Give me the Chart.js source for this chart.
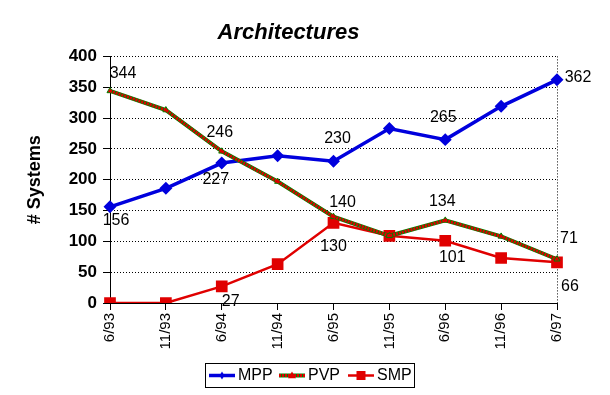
<!DOCTYPE html>
<html>
<head>
<meta charset="utf-8">
<script src="https://cdn.jsdelivr.net/npm/chart.js@4"></script>
<style>
  html, body { margin: 0; padding: 0; background: #fff; }
  #wrap { width: 610px; height: 395px; }
</style>
</head>
<body>
<div id="wrap"><canvas id="archChart" width="610" height="395"></canvas></div>
<script>
// data
const periods = ['6/93', '11/93', '6/94', '11/94', '6/95', '11/95', '6/96', '11/96', '6/97'];
const mpp = [156, 186, 227, 239, 230, 283, 265, 319, 362];
const pvp = [344, 313, 246, 197, 140, 109, 134, 108, 71];
const smp = [0, 0, 27, 63, 130, 109, 101, 73, 66];

// which points carry a value label, and where it sits relative to the point
const labelPlaces = [
    { 0: [6, 14], 2: [-6, 17], 4: [4, -23], 6: [-2, -22], 8: [21, -2] },
    { 0: [13, -17], 2: [-2, -19], 4: [9, -14], 6: [-3, -19], 8: [12, -21] },
    { 2: [9, 15], 4: [0, 24], 6: [7, 17], 8: [13, 24] }
];

const FONT = 'Arial, "Liberation Sans", sans-serif';
const PVP_GREEN = '#008000';
const PVP_RED = '#e00000';

// red dither over the green PVP line, like the old Excel fill
function ditherStroke(ctx, pts) {
    ctx.save();
    ctx.strokeStyle = PVP_RED;
    ctx.lineWidth = 3;
    ctx.setLineDash([2, 1]);
    ctx.beginPath();
    pts.forEach((p, j) => j ? ctx.lineTo(p.x, p.y) : ctx.moveTo(p.x, p.y));
    ctx.stroke();
    ctx.restore();
}

const valueLabels = {
    id: 'valueLabels',
    afterDatasetDraw(chart, args) {
        if (args.index !== 1) return;
        ditherStroke(chart.ctx, args.meta.data);
    },
    afterDatasetsDraw(chart) {
        const ctx = chart.ctx;
        ctx.save();
        ctx.font = '16px ' + FONT;
        ctx.fillStyle = '#000';
        ctx.textAlign = 'center';
        ctx.textBaseline = 'middle';
        chart.data.datasets.forEach((ds, i) => {
            const meta = chart.getDatasetMeta(i);
            const places = labelPlaces[i];
            Object.keys(places).forEach(k => {
                const pt = meta.data[k];
                const off = places[k];
                ctx.fillText(String(ds.data[k]), pt.x + off[0], pt.y + off[1]);
            });
        });
        ctx.restore();
    }
};

const frameAndLegend = {
    id: 'frameAndLegend',
    beforeDatasetsDraw(chart) {
        const ctx = chart.ctx;
        const a = chart.chartArea;
        ctx.save();
        ctx.strokeStyle = '#000';
        ctx.lineWidth = 1;
        ctx.setLineDash([1, 2]);
        ctx.beginPath();
        ctx.moveTo(Math.round(a.right) + 0.5, a.top);
        ctx.lineTo(Math.round(a.right) + 0.5, a.bottom);
        ctx.stroke();
        ctx.restore();
    },
    afterDraw(chart) {
        const ctx = chart.ctx;
        const boxX = 205, boxY = 363, boxW = 209, boxH = 24;
        ctx.save();
        ctx.fillStyle = '#fff';
        ctx.fillRect(boxX, boxY, boxW, boxH);
        ctx.strokeStyle = '#000';
        ctx.lineWidth = 1;
        ctx.strokeRect(boxX + 0.5, boxY + 0.5, boxW, boxH);
        ctx.font = '16px ' + FONT;
        ctx.textBaseline = 'middle';
        ctx.fillStyle = '#000';
        const cy = boxY + boxH / 2 + 0.5;
        const starts = [209, 279, 348];
        chart.data.datasets.forEach((ds, i) => {
            const x0 = starts[i];
            ctx.strokeStyle = ds.borderColor;
            ctx.lineWidth = ds.borderWidth;
            ctx.beginPath();
            ctx.moveTo(x0, cy);
            ctx.lineTo(x0 + 26, cy);
            ctx.stroke();
            if (i === 1) ditherStroke(ctx, [{ x: x0, y: cy }, { x: x0 + 26, y: cy }]);
            ctx.fillStyle = ds.pointBackgroundColor;
            const mx = x0 + 13;
            const r = ds.legendMark;
            ctx.beginPath();
            if (ds.pointStyle === 'rect') {
                ctx.rect(mx - r, cy - r, 2 * r, 2 * r);
            } else if (ds.pointStyle === 'triangle') {
                ctx.moveTo(mx, cy - r);
                ctx.lineTo(mx + r, cy + r * 0.7);
                ctx.lineTo(mx - r, cy + r * 0.7);
                ctx.closePath();
            } else {
                ctx.moveTo(mx, cy - r);
                ctx.lineTo(mx + r * 0.6, cy);
                ctx.lineTo(mx, cy + r);
                ctx.lineTo(mx - r * 0.6, cy);
                ctx.closePath();
            }
            ctx.fill();
            ctx.fillStyle = '#000';
            ctx.fillText(ds.label, x0 + 29, cy);
        });
        ctx.restore();
    }
};

new Chart(document.getElementById('archChart'), {
    type: 'line',
    data: {
        labels: periods,
        datasets: [{
            label: 'MPP',
            data: mpp,
            order: 1,
            borderColor: '#0000dd',
            backgroundColor: '#0000dd',
            pointBackgroundColor: '#0000dd',
            pointBorderColor: '#0000dd',
            borderWidth: 3.5,
            pointStyle: 'rectRot',
            pointRadius: 4,
            legendMark: 4,
            tension: 0
        }, {
            label: 'PVP',
            data: pvp,
            order: 0,
            borderColor: PVP_GREEN,
            backgroundColor: PVP_RED,
            pointBackgroundColor: PVP_RED,
            pointBorderColor: PVP_GREEN,
            pointBorderWidth: 1,
            borderWidth: 4,
            pointStyle: 'triangle',
            pointRadius: 3.5,
            legendMark: 4,
            tension: 0
        }, {
            label: 'SMP',
            data: smp,
            order: 2,
            borderColor: '#e00000',
            backgroundColor: '#e00000',
            pointBackgroundColor: '#e00000',
            pointBorderColor: '#e00000',
            borderWidth: 2.5,
            pointStyle: 'rect',
            pointRadius: 6.5,
            legendMark: 4.5,
            tension: 0
        }]
    },
    options: {
        responsive: false,
        animation: false,
        events: [],
        layout: { padding: { left: 20, right: 53, top: 0, bottom: 0 } },
        plugins: {
            legend: { display: false },
            tooltip: { enabled: false },
            title: {
                display: true,
                text: 'Architectures',
                color: '#000',
                font: { family: FONT, size: 22, weight: 'bold', style: 'italic' },
                padding: { top: 20, bottom: 10 }
            }
        },
        scales: {
            x: {
                offset: false,
                afterFit(scale) { scale.height = 92; },
                grid: { drawOnChartArea: false, drawTicks: true, tickLength: 7, color: '#000', tickColor: '#000' },
                border: { display: true, color: '#000', width: 1 },
                ticks: {
                    color: '#000',
                    font: { family: FONT, size: 15 },
                    maxRotation: 90,
                    minRotation: 90,
                    autoSkip: false,
                    padding: 3
                }
            },
            y: {
                min: 0,
                max: 400,
                afterFit(scale) { scale.width = 90; },
                grid: { color: '#000', lineWidth: 1, tickLength: 7, tickColor: '#000' },
                border: { display: true, color: '#000', width: 1, dash: [1, 2] },
                ticks: {
                    stepSize: 50,
                    color: '#000',
                    font: { family: FONT, size: 17, weight: 'bold' },
                    padding: 6
                },
                title: {
                    display: true,
                    text: '# Systems',
                    color: '#000',
                    font: { family: FONT, size: 18, weight: 'bold' }
                }
            }
        }
    },
    plugins: [valueLabels, frameAndLegend]
});
</script>
</body>
</html>
